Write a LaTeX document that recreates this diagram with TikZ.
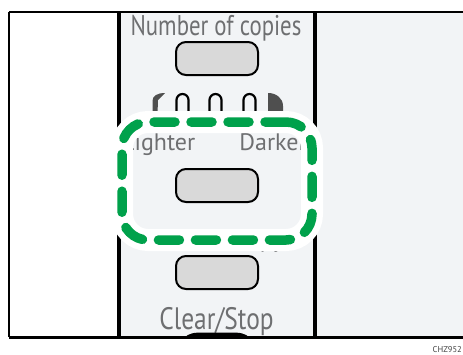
\documentclass[tikz,border=0pt]{standalone}
\usepackage{fontspec}
\setmainfont{PT Sans}
\begin{document}
\begin{tikzpicture}[x=1pt,y=-1pt,
  panel/.style={fill=panelgray,draw=none},
  frame/.style={draw=black},
  btn/.style={draw=black,line width=2pt,fill=btngray,rounded corners=10pt,minimum width=82pt,minimum height=33pt,inner sep=0pt},
  lbl/.style={text=txtgray,inner sep=0pt},
  arch/.style={draw=black,line width=2.2pt},
  halo/.style={draw=selgreen,line width=9.5pt,line cap=round,dash pattern=on 21pt off 16pt,rounded corners=26pt,
     minimum width=190pt,minimum height=118pt,inner sep=0pt,
     preaction={draw=white,line width=22pt,solid}},
]
\definecolor{panelgray}{HTML}{F2F4F6}
\definecolor{btngray}{HTML}{D9D9D9}
\definecolor{txtgray}{HTML}{6E6F71}
\definecolor{selgreen}{HTML}{00A14B}
\definecolor{lampgray}{HTML}{4F4F4F}
\useasboundingbox (0,0) rectangle (463,354);
\fill[white] (0,0) rectangle (463,354);
% panels
\fill[panelgray] (119,12) rectangle (315,337);
\fill[panelgray] (315,12) rectangle (463,337);
% frame
\draw[frame,line width=1.6pt] (9,12) -- (463,12);
\draw[frame,line width=1.6pt] (9,12) -- (9,337);
\draw[frame,line width=3pt] (9,337.5) -- (463,337.5);
\draw[frame,line width=4pt] (119,12) -- (119,337);
\draw[frame,line width=4pt] (315,12) -- (315,337);
% labels
\node[lbl,anchor=base] (ncop) at (216,35) {\fontsize{28.5}{30}\selectfont\scalebox{0.8}[1]{Number of copies}};
\node[lbl,anchor=base west] (light) at (122,150) {\fontsize{24}{26}\selectfont Lighter};
\node[lbl,anchor=base east] (dark) at (307,150) {\fontsize{24}{26}\selectfont Darker};
\node[lbl,anchor=base] (idc) at (218,247) {\fontsize{24}{26}\selectfont ID Card Copy};
\node[lbl,anchor=base] (clr) at (216.5,329) {\fontsize{31}{33}\selectfont\scalebox{0.82}[1]{Clear/Stop}};
% buttons
\node[btn] (b1) at (217,58.5) {};
\node[btn] (b2) at (217,185.5) {};
\node[btn] (b3) at (217,272.5) {};
% lamps
\fill[lampgray] (152.5,114) -- (152.5,101) .. controls (152.5,96) and (157,93) .. (165,93) -- (158,100) -- (157.5,114) -- cycle;
\draw[arch] (176.5,114) -- (176.5,100) arc[start angle=180,end angle=360,radius=6] -- (188.5,114);
\draw[arch] (209.5,114) -- (209.5,100) arc[start angle=180,end angle=360,radius=6] -- (221.5,114);
\draw[arch] (243.5,114) -- (243.5,100) arc[start angle=180,end angle=360,radius=6] -- (255.5,114);
\fill[lampgray] (268,114) -- (268,93) .. controls (276,93) and (283,98) .. (283,106) -- (283,114) -- cycle;
% bottom key top
\fill[black] (184,338) .. controls (189,333) and (194,332.5) .. (204,332.5) -- (230,332.5) .. controls (240,332.5) and (245,333) .. (250,338) -- cycle;
% selection
\node[halo] (sel) at (217,181) {};
% code
\node[anchor=base east,inner sep=0pt,text=black!75] (code) at (462,352.5) {\fontsize{8.5}{10}\selectfont CHZ952};
\end{tikzpicture}
\end{document}
